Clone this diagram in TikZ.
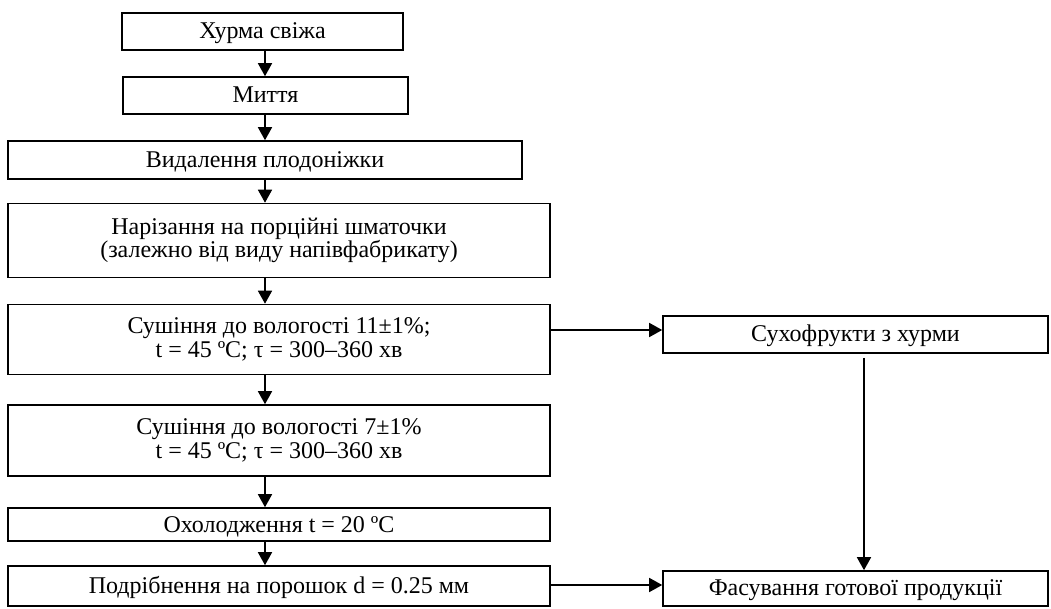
\documentclass[tikz,border=0pt]{standalone}
\usepackage{fontspec}
\setmainfont{Liberation Serif}
\usetikzlibrary{arrows.meta}
\tikzset{
  box/.style={draw, line width=0.8pt, inner sep=0pt, align=center,
    font=\fontsize{12}{11.8}\selectfont},
  onebox/.style={box, text height=9.5pt, text depth=2pt},
  arr/.style={line width=0.8pt, -{Triangle[length=6.5pt,width=7pt]}}
}
\begin{document}
\begin{tikzpicture}[x=0.5pt,y=-0.5pt]
\useasboundingbox[fill=white] (0,0) rectangle (1051,609);
% main column
\node[onebox, minimum width=140.5pt, minimum height=18.5pt] (b1) at (262.5,31.5) {Хурма свіжа};
\node[onebox, minimum width=142.5pt, minimum height=18.5pt] (b2) at (265.5,95.5) {Миття};
\node[onebox, minimum width=257pt, minimum height=19pt] (b3) at (265,160) {Видалення плодоніжки};
\node[box, minimum width=271pt, minimum height=37pt] (b4) at (279,240.5) {Нарізання на порційні шматочки\\(залежно від виду напівфабрикату)};
\node[box, minimum width=271pt, minimum height=35pt] (b5) at (279,339.5) {Сушіння до вологості 11±1\%;\\t = 45 ºC; τ = 300–360 хв};
\node[box, minimum width=271pt, minimum height=35.5pt] (b6) at (279,440.5) {Сушіння до вологості 7±1\%\\t = 45 ºC; τ = 300–360 хв};
\node[onebox, minimum width=271pt, minimum height=16.5pt] (b7) at (279,524.5) {Охолодження t = 20 ºC};
\node[onebox, minimum width=271pt, minimum height=20pt] (b8) at (279,586) {Подрібнення на порошок d = 0.25 мм};
% right column
\node[onebox, minimum width=192.5pt, minimum height=18.5pt] (s) at (855.5,334.5) {Сухофрукти з хурми};
\node[onebox, minimum width=192.5pt, minimum height=17.5pt] (f) at (855.5,588.5) {Фасування готової продукції};
% helper coordinates
\coordinate (ax) at (265,0);
\coordinate (lx) at (864,0);
\coordinate (ay1) at (0,330);
\coordinate (ay2) at (0,585);
% connectors
\draw[arr] (b1.south -| ax) -- (b2.north -| ax);
\draw[arr] (b2.south -| ax) -- (b3.north -| ax);
\draw[arr] (b3.south -| ax) -- (b4.north -| ax);
\draw[arr] (b4.south -| ax) -- (b5.north -| ax);
\draw[arr] (b5.south -| ax) -- (b6.north -| ax);
\draw[arr] (b6.south -| ax) -- (b7.north -| ax);
\draw[arr] (b7.south -| ax) -- (b8.north -| ax);
\draw[arr] (b5.east |- ay1) -- (s.west |- ay1);
\draw[arr] (b8.east |- ay2) -- (f.west |- ay2);
\draw[arr] ([yshift=-2pt]s.south -| lx) -- (f.north -| lx);
\end{tikzpicture}
\end{document}
